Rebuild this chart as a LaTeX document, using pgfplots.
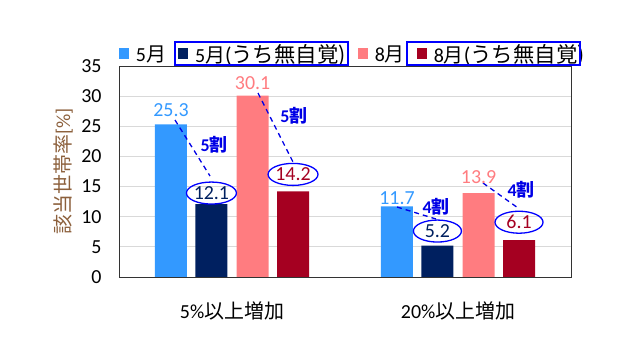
\documentclass[border=0pt]{standalone}
\usepackage{fontspec}
\usepackage{pgfplots}
\pgfplotsset{compat=1.18}
\usepackage{pgfplotstable}
\usetikzlibrary{shapes.geometric}
\setmainfont{Carlito}
\newfontfamily\cjk{Noto Sans CJK JP}
\definecolor{cA}{RGB}{51,153,255}
\definecolor{cB}{RGB}{0,32,96}
\definecolor{cC}{RGB}{255,124,128}
\definecolor{cD}{RGB}{165,0,33}
\definecolor{ann}{RGB}{0,0,230}
\definecolor{ylab}{RGB}{140,96,60}

\pgfplotstableread{
x y dy
0 25.3 14
1 11.7 8
}\tA
\pgfplotstableread{
x y dy
0 12.1 11
1 5.2 14.6
}\tB
\pgfplotstableread{
x y dy
0 30.1 12.5
1 13.9 16
}\tC
\pgfplotstableread{
x y dy
0 14.2 17
1 6.1 18
}\tD

\pgfplotsset{sq/.style={legend image code/.code={\fill[##1] (0bp,-5.5bp) rectangle (10bp,5.5bp);}}}
\newcommand{\wide}[1]{{\fontsize{21.5}{24}\selectfont(\cjk #1)}}

\begin{document}
\begin{tikzpicture}
\path[use as bounding box] (0bp,0bp) rectangle (640bp,360bp);
\begin{axis}[
  at={(119bp,83bp)}, anchor=south west,
  scale only axis, width=452bp, height=211bp,
  xmin=-0.5, xmax=1.5, ymin=0, ymax=35,
  ytick={0,5,...,35}, xtick={0,1},
  xticklabels={5\%{\cjk 以上増加}, 20\%{\cjk 以上増加}},
  /pgf/number format/assume math mode=true,
  major tick length=0pt,
  ymajorgrids, grid style={color=black!15, line width=0.8bp},
  axis line style={black!80, line width=0.8bp},
  tick label style={font=\fontsize{20}{24}\selectfont},
  yticklabel style={xshift=-14bp},
  xticklabel style={yshift=-21bp},
  ylabel={{\cjk 該当世帯率}[\%]},
  ylabel style={at={(axis description cs:-0.1239,0.5)}, anchor=center, font=\fontsize{20}{24}\selectfont, text=ylab},
  ybar, bar width=0.1416,
  nodes near coords={\pgfmathprintnumber[fixed,fixed zerofill,precision=1]{\pgfplotspointmeta}},
  point meta=y,
  visualization depends on={\thisrow{dy} \as \dy},
  every node near coord/.append style={anchor=center, yshift=\dy bp, font=\fontsize{20}{24}\selectfont},
  legend columns=4,
  legend style={at={(axis description cs:0,1.057)}, anchor=west, draw=none, fill=none, inner sep=0pt, outer sep=0pt, font=\fontsize{20}{24}\selectfont, /tikz/every odd column/.append style={column sep=5bp}, /tikz/every even column/.append style={column sep=10bp}},
  legend cell align=left,
]
\addplot[sq, fill=cA, draw=none, bar shift=-0.27, every node near coord/.append style={text=cA}] table[x=x,y=y] {\tA};
\addlegendentry{5{\cjk 月}}
\addplot[sq, fill=cB, draw=none, bar shift=-0.091, every node near coord/.append style={text=cB, ellipse, draw=blue, line width=1.3bp, minimum width=48bp, minimum height=22bp, inner sep=0pt}] table[x=x,y=y] {\tB};
\addlegendentry{5{\cjk 月}\wide{うち無自覚}}
\addplot[sq, fill=cC, draw=none, bar shift=0.091, every node near coord/.append style={text=cC}] table[x=x,y=y] {\tC};
\addlegendentry{8{\cjk 月}}
\addplot[sq, fill=cD, draw=none, bar shift=0.27, every node near coord/.append style={text=cD, ellipse, draw=blue, line width=1.3bp, minimum width=48bp, minimum height=22bp, inner sep=0pt}] table[x=x,y=y] {\tD};
\addlegendentry{8{\cjk 月}\wide{うち無自覚}}

\draw[ann, dash pattern=on 5bp off 4bp, line width=1.3bp] (axis cs:-0.2522,26.04) -- (axis cs:-0.0973,16.75);
\draw[ann, dash pattern=on 5bp off 4bp, line width=1.3bp] (axis cs:0.1150,30.52) -- (axis cs:0.2699,19.08);
\draw[ann, dash pattern=on 5bp off 4bp, line width=1.3bp] (axis cs:0.7301,11.61) -- (axis cs:0.9027,9.62);
\draw[ann, dash pattern=on 5bp off 4bp, line width=1.3bp] (axis cs:1.1106,15.59) -- (axis cs:1.2655,11.45);
\node[text=ann, font=\bfseries\fontsize{18}{20}\selectfont] at (axis cs:-0.0796,21.9) {5{\cjk 割}};
\node[text=ann, font=\bfseries\fontsize{18}{20}\selectfont] at (axis cs:0.274,26.7) {5{\cjk 割}};
\node[text=ann, font=\bfseries\fontsize{18}{20}\selectfont] at (axis cs:0.903,11.6) {4{\cjk 割}};
\node[text=ann, font=\bfseries\fontsize{18}{20}\selectfont] at (axis cs:1.279,14.4) {4{\cjk 割}};
\end{axis}
\draw[blue, line width=1.5bp] (175bp,295bp) rectangle (348bp,318bp);
\draw[blue, line width=1.5bp] (407bp,295bp) rectangle (580bp,318bp);
\end{tikzpicture}
\end{document}
